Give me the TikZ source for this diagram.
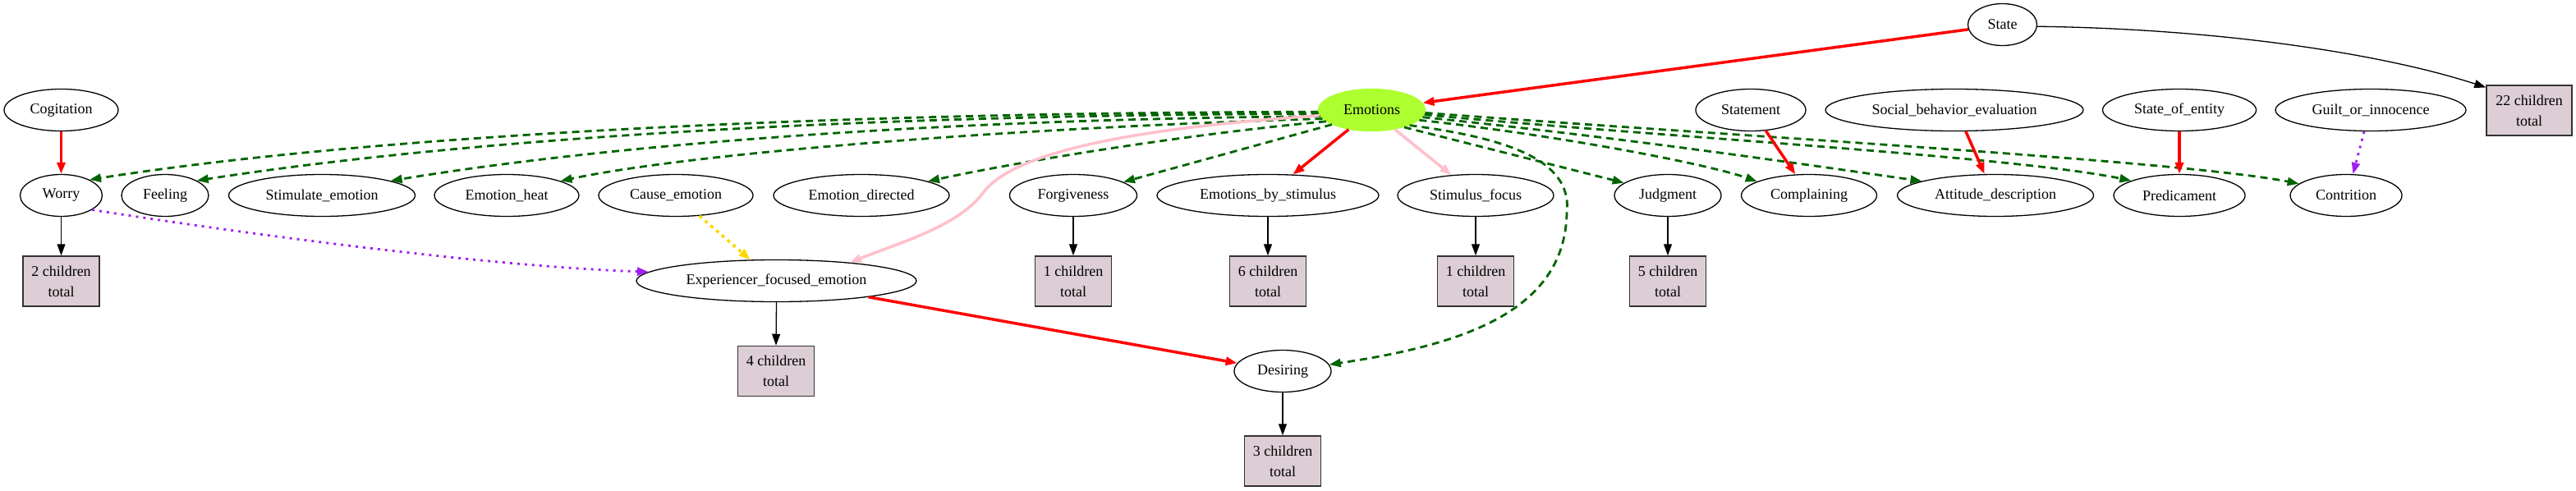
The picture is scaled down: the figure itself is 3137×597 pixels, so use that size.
\documentclass[tikz,border=0pt]{standalone}
\usepackage{fontspec}
\setmainfont{Liberation Serif}
\usetikzlibrary{arrows.meta,shapes.geometric}
\definecolor{dgreen}{RGB}{0,100,0}
\definecolor{boxc}{RGB}{221,206,214}
\definecolor{boxline}{RGB}{50,50,50}
\definecolor{gyel}{RGB}{173,255,47}
\definecolor{pinkc}{RGB}{255,192,203}
\definecolor{purp}{RGB}{160,32,240}
\definecolor{goldc}{RGB}{255,215,0}
\tikzset{
  ell/.style={ellipse, draw, line width=1.3pt, minimum height=51pt, inner sep=0pt,
    font=\fontsize{18}{22}\selectfont},
  cbox/.style={rectangle, draw=boxline, fill=boxc, line width=1.5pt, minimum width=93pt,
    minimum height=61pt, inner sep=0pt, align=center, font=\fontsize{18}{25}\selectfont},
  tip/.style={-{Triangle[length=14pt,width=10pt]}},
  blk/.style={tip, line width=1.3pt, black},
  redE/.style={tip, line width=3.5pt, red},
  pinkE/.style={tip, line width=3.5pt, pinkc},
  grn/.style={tip, line width=2.8pt, dgreen, dash pattern=on 9pt off 6pt},
  purE/.style={tip, line width=2.8pt, purp, dash pattern=on 3pt off 6pt},
  goldE/.style={tip, line width=3.5pt, goldc, dash pattern=on 4pt off 5pt}
}
\begin{document}
\begin{tikzpicture}[x=1pt,y=-1pt]
\useasboundingbox (0,0) rectangle (3137,597);
% row 0
\node[ell, minimum width=84pt] (state) at (2438.5,30) {State};
% row 1
\node[ell, minimum width=139pt] (cog) at (74.5,134) {Cogitation};
\node[ell, minimum width=130pt, fill=gyel, draw=gyel] (emo) at (1670.5,134) {Emotions};
\node[ell, minimum width=134pt] (stmt) at (2132,134) {Statement};
\node[ell, minimum width=314pt] (sbe) at (2380,134) {Social\_behavior\_evaluation};
\node[ell, minimum width=187pt] (soe) at (2654,134) {State\_of\_entity};
\node[ell, minimum width=232pt] (goi) at (2887,134) {Guilt\_or\_innocence};
\node[cbox, minimum width=104pt] (box22) at (3080,134.5) {22 children\\total};
% row 2
\node[ell, minimum width=100pt] (worry) at (74.5,238) {Worry};
\node[ell, minimum width=106pt] (feel) at (201,238) {Feeling};
\node[ell, minimum width=227pt] (stim) at (392,238) {Stimulate\_emotion};
\node[ell, minimum width=176pt] (heat) at (617,238) {Emotion\_heat};
\node[ell, minimum width=188pt] (cause) at (823,238) {Cause\_emotion};
\node[ell, minimum width=214pt] (edir) at (1049,238) {Emotion\_directed};
\node[ell, minimum width=155pt] (forg) at (1307,238) {Forgiveness};
\node[ell, minimum width=270pt] (ebs) at (1544,238) {Emotions\_by\_stimulus};
\node[ell, minimum width=190pt] (sfoc) at (1797,238) {Stimulus\_focus};
\node[ell, minimum width=130pt] (judg) at (2031,238) {Judgment};
\node[ell, minimum width=165pt] (comp) at (2203,238) {Complaining};
\node[ell, minimum width=239pt] (att) at (2430,238) {Attitude\_description};
\node[ell, minimum width=160pt] (pred) at (2654,238) {Predicament};
\node[ell, minimum width=136pt] (cont) at (2857,238) {Contrition};
% row 3
\node[cbox] (box2) at (74.5,342.5) {2 children\\total};
\node[ell, minimum width=341pt] (exp) at (945.5,342) {Experiencer\_focused\_emotion};
\node[cbox] (box1a) at (1307,342.5) {1 children\\total};
\node[cbox] (box6) at (1544,342.5) {6 children\\total};
\node[cbox] (box1b) at (1797,342.5) {1 children\\total};
\node[cbox] (box5) at (2031,342.5) {5 children\\total};
% row 4
\node[cbox] (box4) at (945,452) {4 children\\total};
\node[ell, minimum width=118pt] (des) at (1562,452) {Desiring};
% row 5
\node[cbox] (box3) at (1562,561.5) {3 children\\total};

% black edges
\draw[blk] (state.-3) .. controls (2700,35) and (2900,65) .. (box22.152);
\draw[blk] (worry.south) -- (box2.north);
\draw[blk] (forg.south) -- (box1a.north);
\draw[blk] (ebs.south) -- (box6.north);
\draw[blk] (sfoc.south) -- (box1b.north);
\draw[blk] (judg.south) -- (box5.north);
\draw[blk] (exp.south) -- (box4.north);
\draw[blk] (des.south) -- (box3.north);

% green dashed edges
\draw[grn] (emo.182) .. controls (1000,137) and (450,165) .. (worry.29);
\draw[grn] (emo.184) .. controls (1000,140) and (550,172) .. (feel.25);
\draw[grn] (emo.187) .. controls (1150,145) and (750,175) .. (stim.12);
\draw[grn] (emo.190) .. controls (1250,155) and (850,185) .. (heat.15);
\draw[grn] (emo.194) .. controls (1450,163) and (1250,195) .. (edir.12);
\draw[grn] (emo.200) -- (forg.15);
\draw[grn] (emo.-28) -- (judg.164);
\draw[grn] (emo.-12) .. controls (1900,165) and (2080,200) .. (comp.165);
\draw[grn] (emo.-8) .. controls (2000,170) and (2250,208) .. (att.169);
\draw[grn] (emo.-5) .. controls (2000,165) and (2450,190) .. (pred.163);
\draw[grn] (emo.-3) .. controls (2100,165) and (2650,195) .. (cont.166);
\coordinate (dbend) at (1908,260);
\draw[grn] (emo.-22) .. controls (1850,170) and (1915,200) .. (dbend)
  .. controls (1905,380) and (1780,420) .. (des.8);

% pink edges
\coordinate (pbend) at (1197,235);
\draw[pinkE] (emo.186) .. controls (1400,155) and (1237,181) .. (pbend)
  .. controls (1167,275) and (1100,294) .. (exp.14);
\draw[pinkE] (emo.-40) -- (sfoc.140);

% red edges
\draw[redE] (state.188) -- (emo.8);
\draw[redE] (cog.south) -- (worry.north);
\draw[redE] (emo.220) -- (ebs.40);
\draw[redE] (stmt.-54) -- (comp.123);
\draw[redE] (sbe.-62) -- (att.117);
\draw[redE] (soe.south) -- (pred.north);
\draw[redE] (exp.-10) -- (des.170);

% dotted edges
\draw[purE] (worry.-25) .. controls (300,285) and (600,325) .. (exp.176.5);
\draw[purE] (goi.253) -- (cont.72);
\draw[goldE] (cause.-41) -- (exp.141);
\end{tikzpicture}
\end{document}
